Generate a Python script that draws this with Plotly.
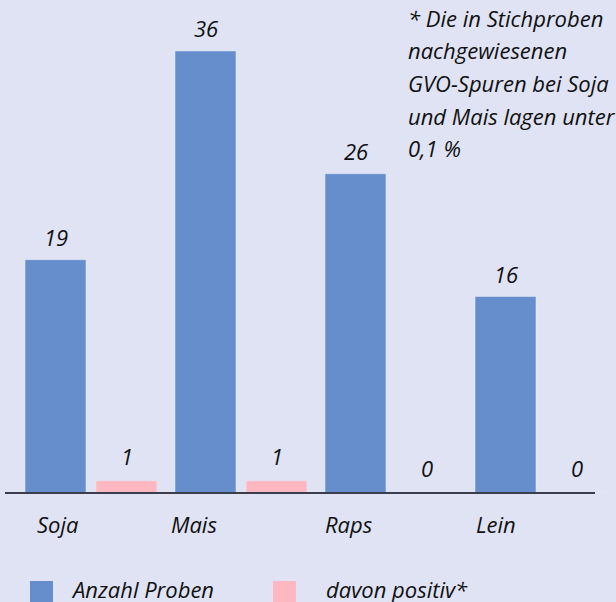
import plotly.graph_objects as go

categories = ["Soja", "Mais", "Raps", "Lein"]
anzahl_proben = [19, 36, 26, 16]
davon_positiv = [1, 1, 0, 0]
series_names = ["Anzahl Proben", "davon positiv*"]
note_lines = [
    "* Die in Stichproben",
    "nachgewiesenen",
    "GVO-Spuren bei Soja",
    "und Mais lagen unter",
    "0,1 %",
]

BG = "#dfe3f4"
BLUE = "#668ecc"
PINK = "#ffb7c2"
FONT = dict(family="'Open Sans', Lato, sans-serif", size=22, color="#111111", style="italic")

W, H = 616, 602
ML, MR, MT, MB = 16, 0, 0, 109
cat_px = (W - ML - MR) / len(categories)
bar_w = 61 / cat_px
label_xshift = [-56, -72, -68, -67]  # layout: pixel offsets of category labels

fig = go.Figure()
fig.add_trace(go.Bar(x=categories, y=anzahl_proben, name=series_names[0], marker_color=BLUE,
                     width=bar_w, offset=-66 / cat_px, showlegend=False))
fig.add_trace(go.Bar(x=categories, y=davon_positiv, name=series_names[1], marker_color=PINK,
                     width=bar_w, offset=5 / cat_px, showlegend=False))


def px_x(p):
    return (p - ML) / (W - ML - MR)


def px_y(p):
    return (H - MB - p) / (H - MT - MB)


annotations = []
for c, v in zip(categories, anzahl_proben):
    annotations.append(dict(x=c, y=v, xref="x", yref="y", text=str(v), showarrow=False,
                            xshift=-35.5, yshift=23, yanchor="middle", font=FONT))
for c, v in zip(categories, davon_positiv):
    annotations.append(dict(x=c, y=v, xref="x", yref="y", text=str(v), showarrow=False,
                            xshift=35.5, yshift=25, yanchor="middle", font=FONT))
# category labels
for c, sh in zip(categories, label_xshift):
    annotations.append(dict(x=c, y=0, xref="x", yref="y", text=c, showarrow=False,
                            xshift=sh, yshift=-31, xanchor="left", yanchor="middle", font=FONT))
# footnote
for i, line in enumerate(note_lines):
    annotations.append(dict(x=px_x(406), y=px_y(18 + i * 32.5), xref="paper", yref="paper",
                            text=line, showarrow=False, xanchor="left", yanchor="middle",
                            font=FONT))

shapes = [dict(type="line", xref="paper", yref="paper", x0=px_x(5), x1=px_x(595), y0=0, y1=0,
               line=dict(color="#3a3d4a", width=2))]

# manual legend
legend_items = [(series_names[0], BLUE, 30, 69), (series_names[1], PINK, 273, 324)]
for name, col, sx, tx in legend_items:
    shapes.append(dict(type="rect", xref="paper", yref="paper", x0=px_x(sx), x1=px_x(sx + 23),
                       y0=px_y(581), y1=px_y(604), fillcolor=col, line=dict(width=0)))
    annotations.append(dict(x=px_x(tx), y=px_y(589), xref="paper", yref="paper", text=name,
                            showarrow=False, xanchor="left", yanchor="middle", font=FONT))

fig.update_layout(
    width=W, height=H,
    margin=dict(l=ML, r=MR, t=MT, b=MB, pad=0),
    paper_bgcolor=BG, plot_bgcolor=BG,
    barmode="group",
    xaxis=dict(showticklabels=False, showgrid=False, zeroline=False, showline=False, ticks=""),
    yaxis=dict(range=[0, 40.15], showticklabels=False, showgrid=False, zeroline=False, showline=False),
    annotations=annotations,
    shapes=shapes,
    showlegend=False,
)

fig.write_html("out.html", config={"displayModeBar": False},
               post_script="document.body.style.margin='0';document.body.style.background='" + BG + "';")
